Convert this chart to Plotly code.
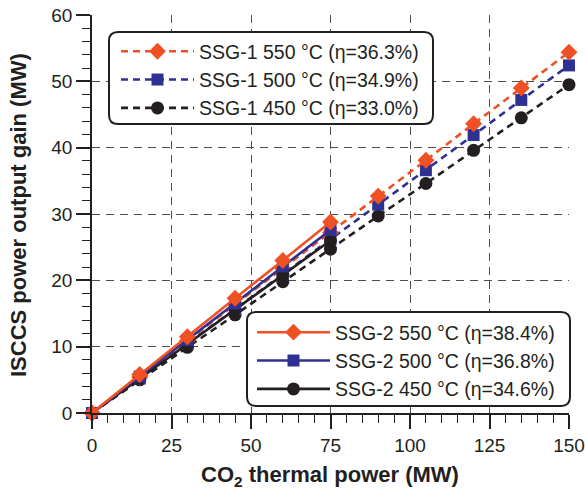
import plotly.graph_objects as go

# ---------------- data ----------------
x_ssg1 = [0, 15, 30, 45, 60, 75, 90, 105, 120, 135, 150]
x_ssg2 = [0, 15, 30, 45, 60, 75]

ssg1_550 = [0, 5.4, 10.9, 16.4, 21.8, 27.2, 32.7, 38.1, 43.6, 49.0, 54.4]
ssg1_500 = [0, 5.2, 10.5, 15.7, 20.9, 26.2, 31.4, 36.6, 41.9, 47.2, 52.4]
ssg1_450 = [0, 5.0, 9.9, 14.8, 19.8, 24.7, 29.7, 34.6, 39.6, 44.5, 49.5]

ssg2_550 = [0, 5.8, 11.5, 17.3, 23.0, 28.8]
ssg2_500 = [0, 5.5, 11.0, 16.5, 22.1, 27.6]
ssg2_450 = [0, 5.2, 10.4, 15.6, 20.8, 26.0]

names1 = ["SSG-1 550 °C (η=36.3%)", "SSG-1 500 °C (η=34.9%)", "SSG-1 450 °C (η=33.0%)"]
names2 = ["SSG-2 550 °C (η=38.4%)", "SSG-2 500 °C (η=36.8%)", "SSG-2 450 °C (η=34.6%)"]

x_ticks = [0, 25, 50, 75, 100, 125, 150]
y_ticks = [0, 10, 20, 30, 40, 50, 60]

x_title = "CO<sub>2</sub> thermal power (MW)"
y_title = "ISCCS power output gain (MW)"

# ---------------- style ----------------
ORANGE = "#EF5125"
BLUE = "#2E3192"
BLACK = "#231F20"
FONT = "Liberation Sans, Arial, sans-serif"

W, H = 585, 490
L, R, T, B = 92, 16, 15, 77
PW, PH = W - L - R, H - T - B


def px2x(px):
    return (px - L) / PW


def py2y(py):
    return (H - B - py) / PH


fig = go.Figure()

series = [
    (x_ssg1, ssg1_450, names1[2], BLACK, "circle", 13, "dash", "legend"),
    (x_ssg1, ssg1_500, names1[1], BLUE, "square", 12, "dash", "legend"),
    (x_ssg1, ssg1_550, names1[0], ORANGE, "diamond", 13, "dash", "legend"),
    (x_ssg2, ssg2_450, names2[2], BLACK, "circle", 13, "solid", "legend2"),
    (x_ssg2, ssg2_500, names2[1], BLUE, "square", 12, "solid", "legend2"),
    (x_ssg2, ssg2_550, names2[0], ORANGE, "diamond", 13, "solid", "legend2"),
]
for xs, ys, nm, col, sym, sz, dash, lg in series:
    fig.add_trace(go.Scatter(
        x=xs, y=ys, name=nm, mode="lines+markers",
        line=dict(color=col, width=2.6, dash=("7px,5px" if dash == "dash" else "solid")),
        marker=dict(color=col, symbol=sym, size=sz, line=dict(width=0)),
        cliponaxis=False, legend=lg,
    ))


def rounded_box(x0, y0, x1, y1, r=9):
    def P(px, py):
        return f"{px2x(px):.5f},{py2y(py):.5f}"
    path = (
        f"M{P(x0 + r, y0)} L{P(x1 - r, y0)} Q{P(x1, y0)} {P(x1, y0 + r)} "
        f"L{P(x1, y1 - r)} Q{P(x1, y1)} {P(x1 - r, y1)} "
        f"L{P(x0 + r, y1)} Q{P(x0, y1)} {P(x0, y1 - r)} "
        f"L{P(x0, y0 + r)} Q{P(x0, y0)} {P(x0 + r, y0)} Z"
    )
    return dict(type="path", xref="paper", yref="paper", path=path,
                fillcolor="white", line=dict(color=BLACK, width=2), layer="above")


shapes = [rounded_box(109, 32, 433, 124), rounded_box(247, 312, 570, 406)]

legend_common = dict(
    bgcolor="rgba(0,0,0,0)", borderwidth=0, traceorder="reversed",
    font=dict(family=FONT, size=19.5, color=BLACK), itemwidth=73,
    xanchor="left", yanchor="top", xref="container", yref="container",
)

annotations = [
    dict(text=x_title, xref="paper", yref="paper", x=px2x(330), y=py2y(476),
         xanchor="center", yanchor="middle", showarrow=False,
         font=dict(size=22, family=FONT, weight="bold", color=BLACK)),
    dict(text=y_title, xref="paper", yref="paper", x=px2x(19), y=py2y(215),
         xanchor="center", yanchor="middle", showarrow=False, textangle=-90,
         font=dict(size=22, family=FONT, weight="bold", color=BLACK)),
]

axis_common = dict(
    showline=True, linecolor=BLACK, linewidth=1.5, automargin=False,
    ticks="outside", ticklen=14, tickwidth=1.5, tickcolor=BLACK,
    showgrid=True, gridcolor="#4d4d4d", gridwidth=1.3, griddash="8px,6px",
    zeroline=False, tickfont=dict(size=19, color=BLACK, family=FONT),
)

fig.update_layout(
    width=W, height=H,
    margin=dict(l=L, r=R, t=T, b=B, autoexpand=False),
    paper_bgcolor="white", plot_bgcolor="white",
    font=dict(family=FONT, color=BLACK),
    shapes=shapes,
    annotations=annotations,
    legend=dict(x=116 / W, y=1 - 32 / H, **legend_common),
    legend2=dict(x=252 / W, y=1 - 313 / H, **legend_common),
    xaxis=dict(
        range=[0, 150], tickvals=x_ticks, ticktext=[str(v) for v in x_ticks],
        minor=dict(dtick=5, tick0=0, ticks="outside", ticklen=8, tickwidth=1.2, tickcolor=BLACK, showgrid=False),
        **axis_common,
    ),
    yaxis=dict(
        range=[0, 60], tickvals=y_ticks, ticktext=[str(v) for v in y_ticks],
        minor=dict(dtick=2, tick0=0, ticks="outside", ticklen=8, tickwidth=1.2, tickcolor=BLACK, showgrid=False),
        **axis_common,
    ),
)

fig.write_html("out.html")
